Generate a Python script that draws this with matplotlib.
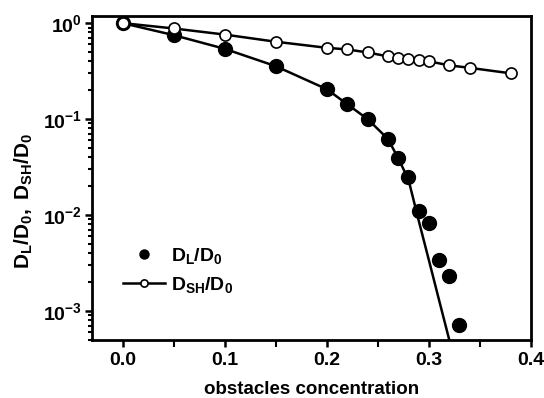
import matplotlib
matplotlib.use('Agg')
import matplotlib.pyplot as plt
from matplotlib.ticker import MultipleLocator, LogLocator, FixedFormatter, NullFormatter

plt.rcParams['font.family'] = 'Liberation Sans'
plt.rcParams['font.weight'] = 'bold'
plt.rcParams['mathtext.fontset'] = 'custom'
plt.rcParams['mathtext.rm'] = 'Liberation Sans:bold'
plt.rcParams['mathtext.it'] = 'Liberation Sans:bold'
plt.rcParams['mathtext.bf'] = 'Liberation Sans:bold'

# D_L / D_0 (filled circles)
x_L = [0.0, 0.05, 0.10, 0.15, 0.20, 0.22, 0.24, 0.26, 0.27, 0.28, 0.29, 0.30, 0.31, 0.32, 0.33]
y_L = [1.0, 0.75, 0.54, 0.356, 0.205, 0.143, 0.10, 0.062, 0.039, 0.0249, 0.011, 0.0083, 0.0034, 0.0023, 0.00072]

# fitted curve through D_L
x_fit = [0.0, 0.05, 0.10, 0.15, 0.20, 0.22, 0.24, 0.26, 0.27, 0.28, 0.29, 0.30, 0.31, 0.32]
y_fit = [1.0, 0.75, 0.54, 0.356, 0.205, 0.143, 0.10, 0.062, 0.039, 0.0235, 0.0088, 0.0034, 0.0013, 0.0005]

# D_SH / D_0 (open circles)
x_SH = [0.0, 0.05, 0.10, 0.15, 0.20, 0.22, 0.24, 0.26, 0.27, 0.28, 0.29, 0.30, 0.32, 0.34, 0.38]
y_SH = [1.0, 0.88, 0.76, 0.64, 0.553, 0.532, 0.495, 0.45, 0.43, 0.42, 0.41, 0.40, 0.363, 0.342, 0.30]

y_ticks = [1e-3, 1e-2, 1e-1, 1e0]
y_ticklabels = [r'$10^{-3}$', r'$10^{-2}$', r'$10^{-1}$', r'$10^{0}$']

fig = plt.figure(figsize=(5.44, 3.98), dpi=100)
ax = fig.add_axes([0.169, 0.146, 0.807, 0.815])

ax.plot(x_fit, y_fit, '-', color='black', lw=1.8, zorder=2)
l1, = ax.plot(x_L, y_L, 'o', color='black', ms=10, zorder=3)
l2, = ax.plot(x_SH, y_SH, '-o', color='black', lw=1.8, ms=8,
              markerfacecolor='white', markeredgecolor='black', markeredgewidth=1.2, zorder=4)

ax.set_yscale('log')
ax.set_xlim(-0.03, 0.4)
ax.set_ylim(5e-4, 1.2)

ax.xaxis.set_major_locator(MultipleLocator(0.1))
ax.xaxis.set_minor_locator(MultipleLocator(0.05))
ax.set_yticks(y_ticks)
ax.yaxis.set_major_formatter(FixedFormatter(y_ticklabels))
ax.yaxis.set_minor_locator(LogLocator(base=10, subs=range(2, 10)))
ax.yaxis.set_minor_formatter(NullFormatter())

for s in ax.spines.values():
    s.set_linewidth(2)
ax.tick_params(which='major', direction='out', length=5, width=1.8)
ax.tick_params(which='minor', direction='out', length=3, width=1.5)
ax.tick_params(axis='x', which='major', pad=4, labelsize=14)
ax.tick_params(axis='y', which='major', pad=2, labelsize=14)
ax.tick_params(axis='x', which='minor', length=5)

ax.set_xlabel('obstacles concentration', fontsize=13.5, fontweight='bold', labelpad=8)
ax.set_ylabel(r'$D_L/D_0,\ D_{SH}/D_0$', fontsize=15, labelpad=6)
ax.yaxis.set_label_coords(-0.13, 0.43)

ax.legend([l1, l2], [r'$D_L/D_0$', r'$D_{SH}/D_0$'], loc='lower left',
          bbox_to_anchor=(0.03, 0.085), frameon=False, fontsize=14, markerscale=0.65,
          handlelength=2.2, handletextpad=0.3, labelspacing=0.45)

fig.savefig('out.png', dpi=100)
